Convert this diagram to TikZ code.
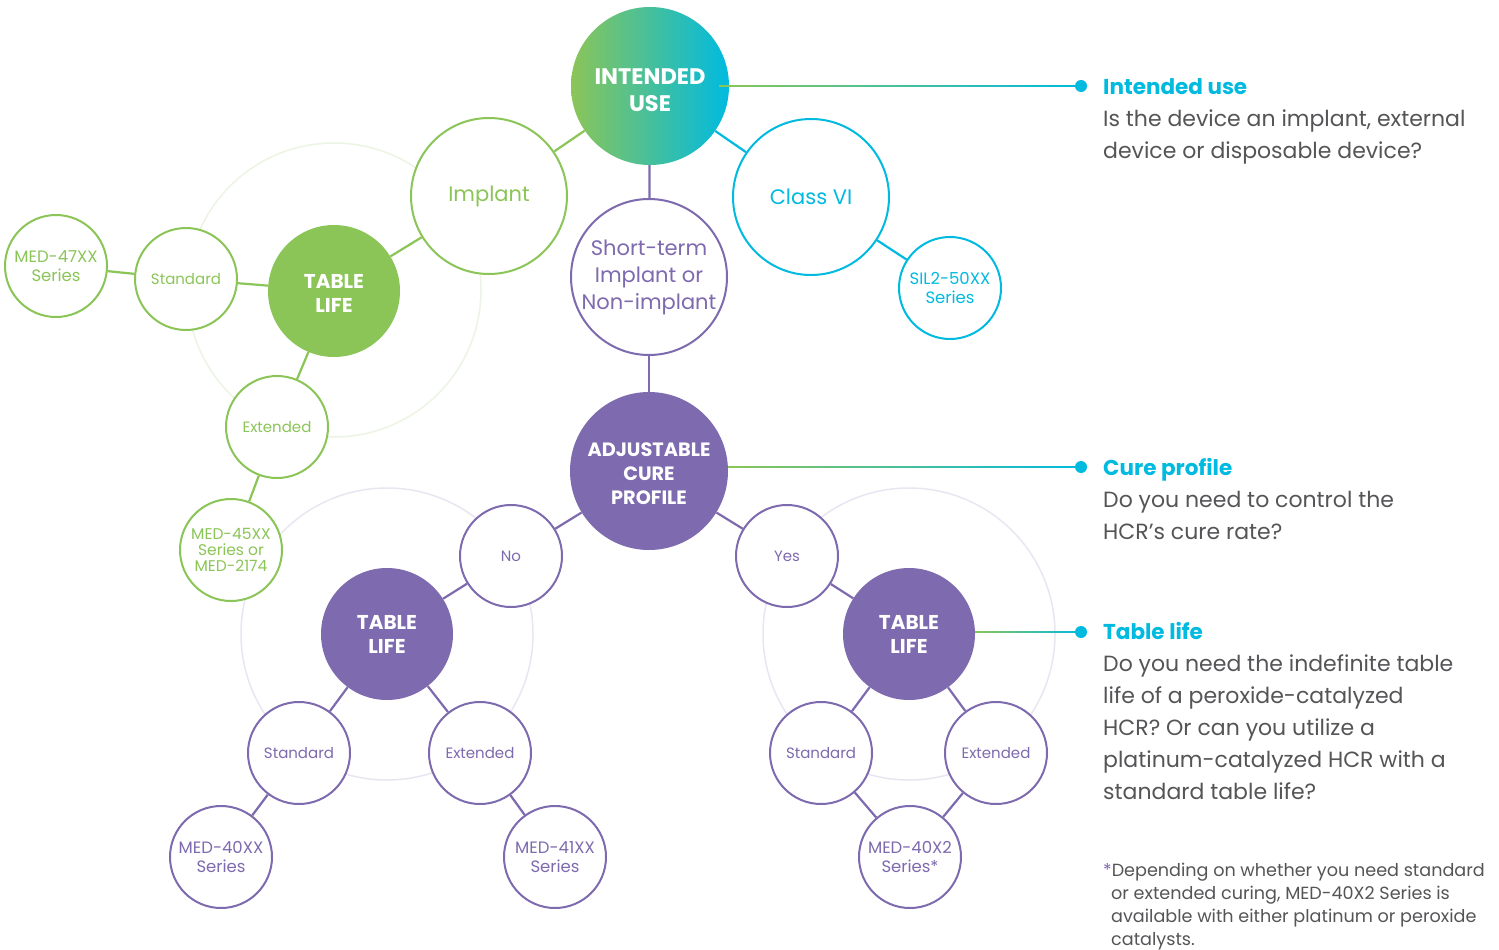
\documentclass[tikz,border=0pt]{standalone}
\usepackage{fontspec}
\setmainfont{Poppins}
\usetikzlibrary{calc}
\definecolor{gr}{RGB}{139,197,88}
\definecolor{pu}{RGB}{126,106,174}
\definecolor{cy}{RGB}{0,186,224}
\definecolor{tx}{RGB}{85,85,88}
\definecolor{rgr}{RGB}{236,244,228}
\definecolor{rpu}{RGB}{233,230,242}
\newcommand\myfs[2]{\fontsize{#1}{#2}\selectfont}
\begin{document}
\begin{tikzpicture}[x=1pt,y=-1pt,
  bub/.style={circle, inner sep=0pt, align=center},
  ringline/.style={line width=1.5pt},
  outlined/.style={bub, draw, line width=2pt, fill=white},
  bigc/.style={outlined, minimum size=156pt, font=\myfs{21}{27}},
  smlc/.style={outlined, minimum size=102pt, font=\myfs{15}{17}},
  medc/.style={smlc, font=\myfs{16.5}{19}},
  tlc/.style={bub, minimum size=132pt, text=white, font=\bfseries\myfs{20}{24}},
  con/.style={line width=2.2pt},
  dotc/.style={circle, fill=cy, inner sep=0pt, minimum size=12pt},
  headt/.style={anchor=base west, inner sep=0pt, text=cy, font=\bfseries\myfs{21.5}{26}},
  bodyt/.style={anchor=base west, inner sep=0pt, text=tx, font=\myfs{22}{26}},
  foott/.style={anchor=base west, inner sep=0pt, text=tx, font=\myfs{17.6}{20}}]
\useasboundingbox (0,0) rectangle (1499,950);
\fill[white] (0,0) rectangle (1499,950);
% faint rings
\draw[ringline, rgr] (334,290) circle[radius=147];
\draw[ringline, rpu] (387,634) circle[radius=146];
\draw[ringline, rpu] (909,634) circle[radius=146];
% main nodes
\node[bub, minimum size=158pt, left color=gr, right color=cy, text=white, font=\bfseries\myfs{22.5}{27}] (iu) at (650,86) {\rule{0pt}{24pt}INTENDED\\USE};
\node[bigc, draw=gr, text=gr] (imp) at (489,196) {Implant};
\node[bigc, draw=cy, text=cy] (cls) at (811,197) {Class VI};
\node[bigc, draw=pu, text=pu] (stm) at (649,277) {Short-term\\Implant or\\Non-implant};
\node[medc, draw=cy, text=cy] (sil) at (950,288) {SIL2-50XX\\Series};
\node[tlc, fill=gr] (tlg) at (334,291) {\rule{0pt}{18pt}TABLE\\LIFE};
\node[smlc, draw=gr, text=gr] (stg) at (186,279) {Standard};
\node[medc, draw=gr, text=gr] (m47) at (56,266) {MED-47XX\\Series};
\node[smlc, draw=gr, text=gr] (exg) at (277,427) {Extended};
\node[medc, draw=gr, text=gr, font=\myfs{15.5}{16}] (m45) at (231,550) {MED-45XX\\Series or\\MED-2174};
\node[bub, minimum size=158pt, fill=pu, text=white, font=\bfseries\myfs{19.3}{24}] (acp) at (649,471) {\rule{0pt}{20pt}ADJUSTABLE\\CURE\\PROFILE};
\node[smlc, draw=pu, text=pu] (no) at (511,556) {No};
\node[smlc, draw=pu, text=pu] (yes) at (787,556) {Yes};
\node[tlc, fill=pu] (tll) at (387,634) {TABLE\\LIFE};
\node[tlc, fill=pu] (tlr) at (909,634) {TABLE\\LIFE};
\node[smlc, draw=pu, text=pu] (stl) at (299,753) {Standard};
\node[smlc, draw=pu, text=pu] (exl) at (480,753) {Extended};
\node[medc, draw=pu, text=pu] (m40) at (221,857) {MED-40XX\\Series};
\node[medc, draw=pu, text=pu] (m41) at (555,857) {MED-41XX\\Series};
\node[smlc, draw=pu, text=pu] (str) at (821,753) {Standard};
\node[smlc, draw=pu, text=pu] (exr) at (996,753) {Extended};
\node[medc, draw=pu, text=pu] (m42) at (910,857) {MED-40X2\\Series*};
% connectors
\draw[con, gr] (iu) -- (imp);
\draw[con, cy] (iu) -- (cls);
\draw[con, pu] (iu) -- (stm);
\draw[con, cy] (cls) -- (sil);
\draw[con, gr] (imp) -- (tlg);
\draw[con, gr] (tlg) -- (stg);
\draw[con, gr] (stg) -- (m47);
\draw[con, gr] (tlg) -- (exg);
\draw[con, gr] (exg) -- (m45);
\draw[con, pu] (stm) -- (acp);
\draw[con, pu] (acp) -- (no);
\draw[con, pu] (acp) -- (yes);
\draw[con, pu] (no) -- (tll);
\draw[con, pu] (tll) -- (stl);
\draw[con, pu] (tll) -- (exl);
\draw[con, pu] (stl) -- (m40);
\draw[con, pu] (exl) -- (m41);
\draw[con, pu] (yes) -- (tlr);
\draw[con, pu] (tlr) -- (str);
\draw[con, pu] (tlr) -- (exr);
\draw[con, pu] (str) -- (m42);
\draw[con, pu] (exr) -- (m42);
% leader lines
\node[dotc] (d1) at (1081,86) {};
\node[dotc] (d2) at (1081,467) {};
\node[dotc] (d3) at (1081,632) {};
\coordinate (l1) at ($(iu.east |- d1)+(-10,0)$);
\coordinate (l2) at (acp.east |- d2);
\coordinate (l3) at (tlr.east |- d3);
\shade[left color=gr, right color=cy] ($(l1)+(0,-0.8)$) rectangle ($(d1.center)+(0,0.8)$);
\shade[left color=gr, right color=cy] ($(l2)+(0,-0.8)$) rectangle ($(d2.center)+(0,0.8)$);
\shade[left color=gr, right color=cy] ($(l3)+(0,-0.8)$) rectangle ($(d3.center)+(0,0.8)$);
% right texts
\node[headt] (h1) at (1103,94) {Intended use};
\node[bodyt] (b11) at (1103,126) {Is the device an implant, external};
\node[bodyt] (b12) at (1103,158) {device or disposable device?};
\node[headt] (h2) at (1103,475) {Cure profile};
\node[bodyt] (b21) at (1103,507) {Do you need to control the};
\node[bodyt] (b22) at (1103,539) {HCR’s cure rate?};
\node[headt] (h3) at (1103,639) {Table life};
\node[bodyt] (b31) at (1103,671) {Do you need the indefinite table};
\node[bodyt] (b32) at (1103,703) {life of a peroxide-catalyzed};
\node[bodyt] (b33) at (1103,735) {HCR? Or can you utilize a};
\node[bodyt] (b34) at (1103,767) {platinum-catalyzed HCR with a};
\node[bodyt] (b35) at (1103,799) {standard table life?};
\node[foott] (f1) at (1103,876) {{\color{pu}*}Depending on whether you need standard};
\node[foott] (f2) at (1111,899) {or extended curing, MED-40X2 Series is};
\node[foott] (f3) at (1111,922) {available with either platinum or peroxide};
\node[foott] (f4) at (1111,945) {catalysts.};
\end{tikzpicture}
\end{document}
